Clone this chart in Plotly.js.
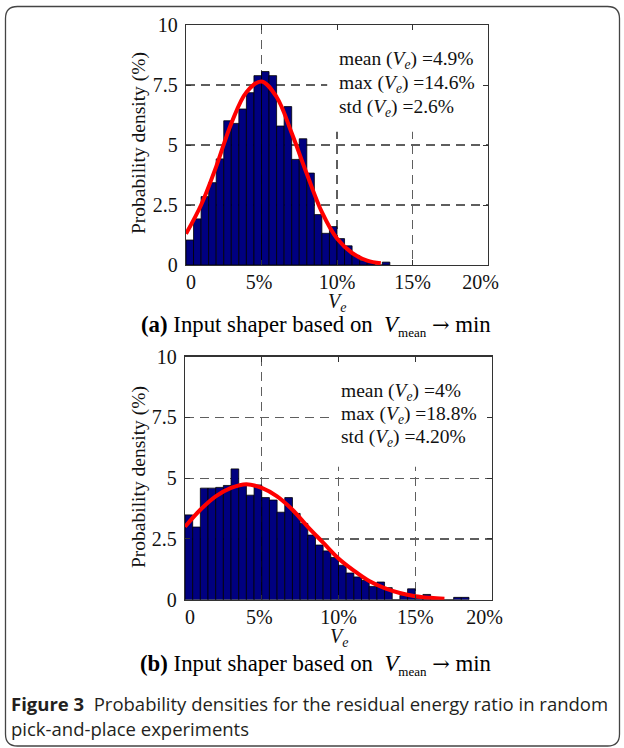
<!DOCTYPE html>
<html>
<head>
<meta charset="utf-8">
<script src="https://cdn.plot.ly/plotly-3.0.1.min.js"></script>
<style>
  html, body { margin: 0; padding: 0; background: #ffffff; }
  #chart { width: 624px; height: 748px; }
</style>
</head>
<body>
<div id="chart"></div>
<script>
// ---------------- data ----------------
// Histogram bins of width 0.5 % starting at 0 %; values = probability density (%)
const binStartA = 0;          // first bin starts at 0 %
const binWidth = 0.5;         // bin width in %
const densityA = [1.04, 1.92, 2.85, 3.43, 4.42, 6.01, 5.90, 6.50, 7.18, 7.89,
                  8.06, 7.89, 5.79, 6.60, 4.40, 5.26, 3.83, 2.10, 1.32, 1.60,
                  1.10, 0.80, 0.40, 0.18, 0.10, 0.00, 0.12];
const densityB = [3.49, 2.99, 4.59, 4.59, 4.62, 4.70, 5.38, 4.72, 4.30, 4.72,
                  4.20, 4.10, 3.60, 4.20, 3.55, 3.14, 2.66, 2.25, 2.01, 1.74,
                  1.42, 1.10, 0.94, 0.80, 0.55, 0.73, 0.50, 0.00, 0.18, 0.45,
                  0.11, 0.22, 0.00, 0.00, 0.00, 0.10, 0.10];

// fitted (red) curves
const fitAx = [0, 1, 2, 3, 4, 5, 6, 7, 8, 9, 10, 11, 12, 12.9];
const fitAy = [1.3, 2.5, 4.1, 5.9, 7.2, 7.65, 7.0, 5.5, 3.8, 2.2, 1.1, 0.5, 0.18, 0.07];
const fitBx = [0, 1, 2, 3, 4, 5, 6, 7, 8, 9, 10, 11, 12, 13, 14, 15, 16, 16.9];
const fitBy = [3.0, 3.7, 4.25, 4.6, 4.75, 4.6, 4.25, 3.7, 3.0, 2.35, 1.7, 1.2, 0.77, 0.48, 0.28, 0.15, 0.08, 0.04];

// tick labels (outer labels are nudged inwards as in the reference)
const xTickVals = [0, 5, 10, 15, 20];
const xTickText = ['\u00a0\u00a00', '5%\u00a0', '10%', '15%', '20%\u00a0\u00a0\u00a0'];
const yTickVals = [0, 2.5, 5, 7.5, 10];
const yTickText = ['0', '2.5', '5', '7.5', '10'];

// statistics texts
const statsA = ['mean (<i>V</i><sub><i>e</i></sub>) =4.9%', 'max (<i>V</i><sub><i>e</i></sub>) =14.6%', 'std (<i>V</i><sub><i>e</i></sub>) =2.6%'];
const statsB = ['mean (<i>V</i><sub><i>e</i></sub>) =4%', 'max (<i>V</i><sub><i>e</i></sub>) =18.8%', 'std (<i>V</i><sub><i>e</i></sub>) =4.20%'];
const arrow = '<span style="font-family:DejaVu Serif;font-size:21px">\u2192</span>';
const captionA = '<b>(a)</b> Input shaper based on \u00a0<i>V</i><sub><span style="font-size:13px">mean</span></sub> ' + arrow + ' min';
const captionB = '<b>(b)</b> Input shaper based on \u00a0<i>V</i><sub><span style="font-size:13px">mean</span></sub> ' + arrow + ' min';
const figCaption1 = '<b>Figure 3</b>\u00a0 Probability densities for the residual energy ratio in random';
const figCaption2 = 'pick-and-place experiments';
const yTitle = 'Probability density (%)';
const xTitle = '<i>V</i><sub><i>e</i></sub>';

// ---------------- layout helpers (pixel -> paper) ----------------
const W = 624, H = 748;
const px = v => v / W;
const py = v => 1 - v / H;
const SERIF = 'Liberation Serif, Times New Roman, serif';

function axisX(domain, anchor) {
  return {
    domain: domain, anchor: anchor, range: [0, 20],
    tickmode: 'array', tickvals: xTickVals, ticktext: xTickText,
    ticks: 'inside', ticklen: 5, tickwidth: 1, tickcolor: '#333',
    showline: true, linecolor: '#333', linewidth: 1.2, mirror: 'ticks',
    showgrid: true, gridcolor: '#5e5e5e', gridwidth: 1.2, griddash: '9px,6px',
    zeroline: false, fixedrange: true,
    tickfont: { family: SERIF, size: 20, color: '#111' },
    ticklabelstandoff: -1
  };
}
function axisY(domain, anchor) {
  return {
    domain: domain, anchor: anchor, range: [0, 10],
    tickmode: 'array', tickvals: yTickVals, ticktext: yTickText,
    ticks: 'inside', ticklen: 5, tickwidth: 1, tickcolor: '#333',
    showline: true, linecolor: '#333', linewidth: 1.2, mirror: 'ticks',
    showgrid: true, gridcolor: '#5e5e5e', gridwidth: 1.2, griddash: '9px,6px',
    zeroline: false, fixedrange: true,
    tickfont: { family: SERIF, size: 20, color: '#111' },
    ticklabelstandoff: 3
  };
}

const barStyle = { color: '#000080', line: { color: '#000000', width: 0.8 } };
const fitStyle = { color: '#ff0000', width: 4, shape: 'spline', smoothing: 1 };

const traces = [
  { type: 'bar', x0: binStartA + binWidth / 2, dx: binWidth, y: densityA, width: binWidth,
    marker: barStyle, xaxis: 'x', yaxis: 'y', hoverinfo: 'skip' },
  { type: 'scatter', mode: 'lines', x: fitAx, y: fitAy, line: fitStyle,
    xaxis: 'x', yaxis: 'y', hoverinfo: 'skip' },
  { type: 'bar', x0: binStartA + binWidth / 2, dx: binWidth, y: densityB, width: binWidth,
    marker: barStyle, xaxis: 'x2', yaxis: 'y2', hoverinfo: 'skip' },
  { type: 'scatter', mode: 'lines', x: fitBx, y: fitBy, line: fitStyle,
    xaxis: 'x2', yaxis: 'y2', hoverinfo: 'skip' }
];

// rounded frame around the whole figure
const fr = { L: 5.5, R: 619.5, T: 6.5, B: 746, r: 12 };
function P(x, y) { return px(x).toFixed(5) + ',' + py(y).toFixed(5); }
const framePath =
  'M' + P(fr.L + fr.r, fr.T) + ' L' + P(fr.R - fr.r, fr.T) +
  ' Q' + P(fr.R, fr.T) + ' ' + P(fr.R, fr.T + fr.r) +
  ' L' + P(fr.R, fr.B - fr.r) +
  ' Q' + P(fr.R, fr.B) + ' ' + P(fr.R - fr.r, fr.B) +
  ' L' + P(fr.L + fr.r, fr.B) +
  ' Q' + P(fr.L, fr.B) + ' ' + P(fr.L, fr.B - fr.r) +
  ' L' + P(fr.L, fr.T + fr.r) +
  ' Q' + P(fr.L, fr.T) + ' ' + P(fr.L + fr.r, fr.T) + ' Z';

const annFont = { family: SERIF, size: 19.5, color: '#111' };
const annotations = [];
const statYA = [8.54, 7.54, 6.54];
const statYB = [8.54, 7.59, 6.65];
statsA.forEach((t, i) => annotations.push({ xref: 'x', yref: 'y', x: 10.0, y: statYA[i], xanchor: 'left', yanchor: 'middle', text: t, showarrow: false, font: annFont }));
statsB.forEach((t, i) => annotations.push({ xref: 'x2', yref: 'y2', x: 10.05, y: statYB[i], xanchor: 'left', yanchor: 'middle', text: t, showarrow: false, font: annFont }));

// axis titles
annotations.push({ xref: 'paper', yref: 'paper', x: px(139), y: py(143), text: yTitle, textangle: -90, showarrow: false, font: annFont, xanchor: 'center', yanchor: 'middle' });
annotations.push({ xref: 'paper', yref: 'paper', x: px(139), y: py(477), text: yTitle, textangle: -90, showarrow: false, font: annFont, xanchor: 'center', yanchor: 'middle' });
annotations.push({ xref: 'paper', yref: 'paper', x: px(337), y: py(303), text: xTitle, showarrow: false, font: { family: SERIF, size: 20, color: '#111' }, xanchor: 'center', yanchor: 'middle' });
annotations.push({ xref: 'paper', yref: 'paper', x: px(339), y: py(637), text: xTitle, showarrow: false, font: { family: SERIF, size: 20, color: '#111' }, xanchor: 'center', yanchor: 'middle' });
// panel captions
annotations.push({ xref: 'paper', yref: 'paper', x: px(316), y: py(326), text: captionA, showarrow: false, font: { family: SERIF, size: 22.8, color: '#000' }, xanchor: 'center', yanchor: 'middle' });
annotations.push({ xref: 'paper', yref: 'paper', x: px(316), y: py(665), text: captionB, showarrow: false, font: { family: SERIF, size: 22.8, color: '#000' }, xanchor: 'center', yanchor: 'middle' });
// figure caption
const capFont = { family: 'Open Sans, Noto Sans, sans-serif', size: 18.5, color: '#231f20' };
annotations.push({ xref: 'paper', yref: 'paper', x: px(9), y: py(703), text: figCaption1, showarrow: false, font: capFont, xanchor: 'left', yanchor: 'middle' });
annotations.push({ xref: 'paper', yref: 'paper', x: px(9), y: py(728), text: figCaption2, showarrow: false, font: capFont, xanchor: 'left', yanchor: 'middle' });

const layout = {
  width: W, height: H,
  margin: { l: 0, r: 0, t: 0, b: 0, pad: 0 },
  paper_bgcolor: '#ffffff', plot_bgcolor: '#ffffff',
  showlegend: false, bargap: 0,
  xaxis: axisX([px(186), px(488)], 'y'),
  yaxis: axisY([py(265), py(25)], 'x'),
  xaxis2: axisX([px(185), px(492)], 'y2'),
  yaxis2: axisY([py(599.8), py(356.5)], 'x2'),
  shapes: [
    { type: 'rect', xref: 'x', yref: 'y', x0: 9.35, x1: 20, y0: 5.55, y1: 10, fillcolor: '#ffffff', line: { width: 0 }, layer: 'between' },
    { type: 'rect', xref: 'x2', yref: 'y2', x0: 9.45, x1: 20, y0: 5.47, y1: 10, fillcolor: '#ffffff', line: { width: 0 }, layer: 'between' },
    { type: 'path', xref: 'paper', yref: 'paper', path: framePath, line: { color: '#444', width: 1.3 }, fillcolor: 'rgba(0,0,0,0)', layer: 'above' }
  ],
  annotations: annotations
};

Plotly.newPlot('chart', traces, layout, { staticPlot: true, displayModeBar: false });
</script>
</body>
</html>
